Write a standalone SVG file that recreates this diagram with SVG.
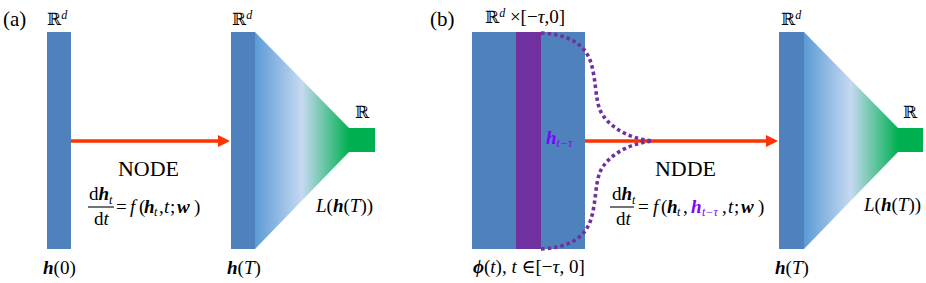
<svg xmlns="http://www.w3.org/2000/svg" width="926" height="283" viewBox="0 0 926 283" font-family="'Liberation Serif', 'Times New Roman', serif">
<defs>
<style>
text{font-family:"Liberation Serif","Times New Roman","DejaVu Serif",serif;font-size:19px;fill:#000}
.bb{font-family:"DejaVu Serif","Liberation Serif",serif;font-size:17px}
.i{font-style:italic}
.bi{font-style:italic;font-weight:bold}
.sub{font-size:12px;font-style:italic}
.bar{fill:#4f81bd}
.red{stroke:#ff3300;stroke-width:3.5;fill:none}
.dot{stroke:#7030a0;stroke-width:3.6;fill:none;stroke-dasharray:3.5 3}
.fr{stroke:#000;stroke-width:1.1}
.ttl{font-size:21px}
.big{font-size:20px}
.pu{fill:#8000ff}
</style>
<linearGradient id="g" x1="0" y1="0" x2="1" y2="0">
<stop offset="0" stop-color="#5b9bd5"/>
<stop offset="0.5" stop-color="#c6d9f1"/>
<stop offset="1" stop-color="#00b050"/>
</linearGradient>
<marker id="ah" markerWidth="12" markerHeight="12" refX="0" refY="6" orient="auto" markerUnits="userSpaceOnUse">
<path d="M0,0 L12,6 L0,12 z" fill="#ff3300"/>
</marker>
</defs>

<g id="connectors">
<line class="red" x1="71" y1="141" x2="218" y2="141" marker-end="url(#ah)"/>
<line class="red" x1="585" y1="141" x2="766" y2="141" marker-end="url(#ah)"/>
</g>

<g id="panel-a-label"><text x="3" y="26" class="ttl">(a)</text></g>

<g id="node-h0">
<rect class="bar" x="47" y="32" width="24" height="217"/>
<text x="47" y="25"><tspan class="bb">ℝ</tspan><tspan class="sub" dy="-6">d</tspan></text>
<text x="43" y="274"><tspan class="bi">h</tspan>(0)</text>
</g>

<g id="label-node">
<text x="148.5" y="176" text-anchor="middle" class="big" textLength="61" lengthAdjust="spacingAndGlyphs">NODE</text>
<text x="89" y="200">d<tspan class="bi">h</tspan><tspan class="sub" dy="4">t</tspan></text>
<line class="fr" x1="88" y1="207" x2="114" y2="207"/>
<text x="94" y="225">d<tspan class="i">t</tspan></text>
<text y="213"><tspan x="116">=</tspan><tspan x="130" class="i">f</tspan><tspan x="139">(</tspan><tspan x="144" class="bi">h</tspan><tspan x="154" class="sub" dy="3">t</tspan><tspan x="159" dy="-3">,</tspan><tspan x="164" class="i">t</tspan><tspan x="170">;</tspan><tspan x="177" class="bi">w</tspan><tspan x="194">)</tspan></text>
</g>

<g id="node-hT-a">
<rect class="bar" x="231" y="32" width="24" height="217"/>
<polygon points="255,32 349,128 349,152 255,249" fill="url(#g)"/>
<rect x="349" y="128" width="26" height="24" fill="#00b050"/>
<text x="232" y="25"><tspan class="bb">ℝ</tspan><tspan class="sub" dy="-6">d</tspan></text>
<text x="355" y="118" class="bb">ℝ</text>
<text x="227" y="274"><tspan class="bi">h</tspan>(<tspan class="i">T</tspan>)</text>
<text x="316" y="212"><tspan class="i">L</tspan>(<tspan class="bi">h</tspan>(<tspan class="i">T</tspan>))</text>
</g>

<g id="panel-b-label"><text x="430" y="26" class="ttl">(b)</text></g>

<g id="node-history">
<rect class="bar" x="472" y="32" width="113" height="217"/>
<rect x="516" y="32" width="25" height="217" fill="#7030a0"/>
<path class="dot" d="M541,33 C565,34 583,42 590,60 C596,76 595,98 600,110 C606,124 625,138 652,141"/>
<path class="dot" d="M541,249 C565,248 583,240 590,222 C596,206 595,184 600,172 C606,158 625,144 652,141"/>
<text x="546" y="144"><tspan class="bi pu">h</tspan><tspan class="sub pu" dy="3">t−τ</tspan></text>
<text x="485" y="23"><tspan class="bb">ℝ</tspan><tspan class="sub" dy="-6">d</tspan><tspan dy="6"> ×[−</tspan><tspan class="i">τ</tspan>,0]</text>
<text x="473" y="273"><tspan class="bi">ϕ</tspan>(<tspan class="i">t</tspan>), <tspan class="i">t</tspan> ∈[−<tspan class="i">τ</tspan>, 0]</text>
</g>

<g id="label-ndde">
<text x="685.5" y="176" text-anchor="middle" class="big" textLength="61" lengthAdjust="spacingAndGlyphs">NDDE</text>
<text x="612" y="200">d<tspan class="bi">h</tspan><tspan class="sub" dy="4">t</tspan></text>
<line class="fr" x1="610" y1="207" x2="634" y2="207"/>
<text x="616" y="225">d<tspan class="i">t</tspan></text>
<text y="213"><tspan x="638">=</tspan><tspan x="653" class="i">f</tspan><tspan x="661">(</tspan><tspan x="667" class="bi">h</tspan><tspan x="677" class="sub" dy="3">t</tspan><tspan x="683" dy="-3">,</tspan><tspan x="691" class="bi pu">h</tspan><tspan x="702" class="sub pu" dy="3">t−τ</tspan><tspan x="722" dy="-3">,</tspan><tspan x="728" class="i">t</tspan><tspan x="734">;</tspan><tspan x="741" class="bi">w</tspan><tspan x="758">)</tspan></text>
</g>

<g id="node-hT-b">
<rect class="bar" x="779" y="32" width="25" height="217"/>
<polygon points="804,32 898,128 898,152 804,249" fill="url(#g)"/>
<rect x="898" y="128" width="25" height="24" fill="#00b050"/>
<text x="781" y="25"><tspan class="bb">ℝ</tspan><tspan class="sub" dy="-6">d</tspan></text>
<text x="903" y="118" class="bb">ℝ</text>
<text x="775" y="274"><tspan class="bi">h</tspan>(<tspan class="i">T</tspan>)</text>
<text x="864" y="211"><tspan class="i">L</tspan>(<tspan class="bi">h</tspan>(<tspan class="i">T</tspan>))</text>
</g>
</svg>
